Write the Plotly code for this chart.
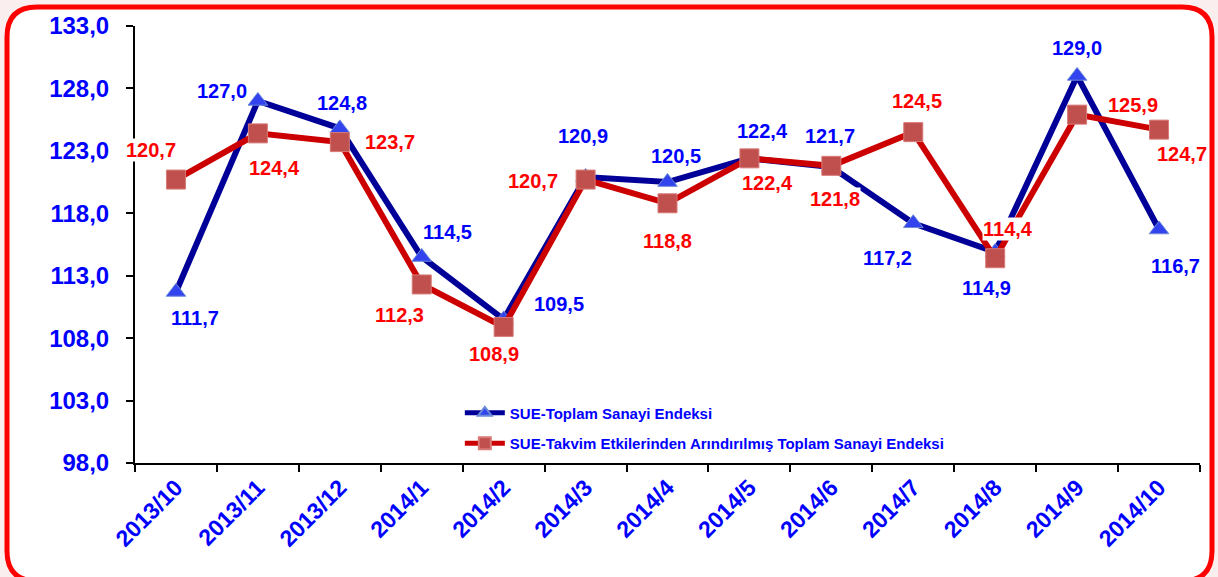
import plotly.graph_objects as go

categories = ["2013/10", "2013/11", "2013/12", "2014/1", "2014/2", "2014/3", "2014/4",
              "2014/5", "2014/6", "2014/7", "2014/8", "2014/9", "2014/10"]
toplam = [111.7, 127.0, 124.8, 114.5, 109.5, 120.9, 120.5, 122.4, 121.7, 117.2, 114.9, 129.0, 116.7]
takvim = [120.7, 124.4, 123.7, 112.3, 108.9, 120.7, 118.8, 122.4, 121.8, 124.5, 114.4, 125.9, 124.7]
name_toplam = "SUE-Toplam Sanayi Endeksi"
name_takvim = "SUE-Takvim Etkilerinden Arındırılmış Toplam Sanayi Endeksi"

# label offsets (pixels, x right, y up)
off_toplam = [(19, -26), (-36, 10), (2, 25), (26, 25), (55, 15), (-3, 41), (8, 26),
              (13, 27), (-1, 31), (-26, -35), (-9, -36), (0, 28), (16, -36)]
off_takvim = [(-25, 30), (17, -35), (50, 0), (-22, -31), (-10, -27), (-53, -1), (0, -38),
              (18, -25), (4, -33), (4, 31), (13, 29), (56, 10), (23, -24)]

FONT = "Liberation Sans, Arial, sans-serif"
BLUE_TXT = "#0000ff"
RED_TXT = "#ff0000"

fig = go.Figure()
fig.add_trace(go.Scatter(
    x=categories, y=toplam, name=name_toplam, mode="lines+markers", legendgroup="a",
    line=dict(color="#000099", width=6),
    marker=dict(symbol="triangle-up", size=17, color="#3344ee",
                line=dict(color="#6a8ad8", width=1)),
))
fig.add_trace(go.Scatter(
    x=categories, y=takvim, name=name_takvim, mode="lines+markers", legendgroup="b",
    line=dict(color="#cc0000", width=6),
    marker=dict(symbol="square", size=19, color="#c0504d",
                line=dict(color="#d87a78", width=1)),
))

def fmt(v):
    return f"{v:.1f}".replace(".", ",")

for c, v, (dx, dy) in zip(categories, toplam, off_toplam):
    fig.add_annotation(x=c, y=v, text=fmt(v), showarrow=False, xshift=dx, yshift=dy,
                       font=dict(family=FONT, size=20, color=BLUE_TXT, weight="bold"))
for c, v, (dx, dy) in zip(categories, takvim, off_takvim):
    fig.add_annotation(x=c, y=v, text=fmt(v), showarrow=False, xshift=dx, yshift=dy,
                       bgcolor="white", borderpad=0,
                       font=dict(family=FONT, size=20, color=RED_TXT, weight="bold"))

# rounded red frame (pixel coordinates relative to plot-area bottom-left)
L, R, T, B, r = -128, 1077, 456, -118, 30
path = (f"M {L+r},{T} L {R-r},{T} Q {R},{T} {R},{T-r} L {R},{B+r} Q {R},{B} {R-r},{B} "
        f"L {L+r},{B} Q {L},{B} {L},{B+r} L {L},{T-r} Q {L},{T} {L+r},{T} Z")
fig.add_shape(type="path", path=path, xref="paper", yref="paper",
              xsizemode="pixel", ysizemode="pixel", xanchor=0, yanchor=0,
              line=dict(color="#ff0000", width=5), fillcolor="white", layer="below")

fig.update_layout(
    width=1218, height=577,
    margin=dict(l=135, r=18, t=21, b=114),
    paper_bgcolor="#fbeeee", plot_bgcolor="rgba(0,0,0,0)",
    separators=", ",
    showlegend=True,
    legend=dict(x=0.305, y=0.152, xanchor="left", yanchor="top",
                bgcolor="rgba(0,0,0,0)", traceorder="grouped", tracegroupgap=8,
                font=dict(family=FONT, size=15, color=BLUE_TXT, weight="bold"),
                itemsizing="constant", itemwidth=40),
    xaxis=dict(type="category", tickson="boundaries", ticks="outside", ticklen=7,
               tickwidth=2, tickcolor="black", showline=True, linecolor="black",
               linewidth=2, showgrid=False, tickangle=-45, range=[-0.5, 12.5],
               tickfont=dict(family=FONT, size=23, color=BLUE_TXT, weight="bold")),
    yaxis=dict(range=[98, 133], tick0=98, dtick=5, tickformat=".1f", ticks="outside",
               ticklen=7, tickwidth=2, tickcolor="black", showline=True,
               linecolor="black", linewidth=2, showgrid=False, zeroline=False,
               ticklabelstandoff=12,
               tickfont=dict(family=FONT, size=24, color=BLUE_TXT, weight="bold")),
)

fig.write_html("out.html")
